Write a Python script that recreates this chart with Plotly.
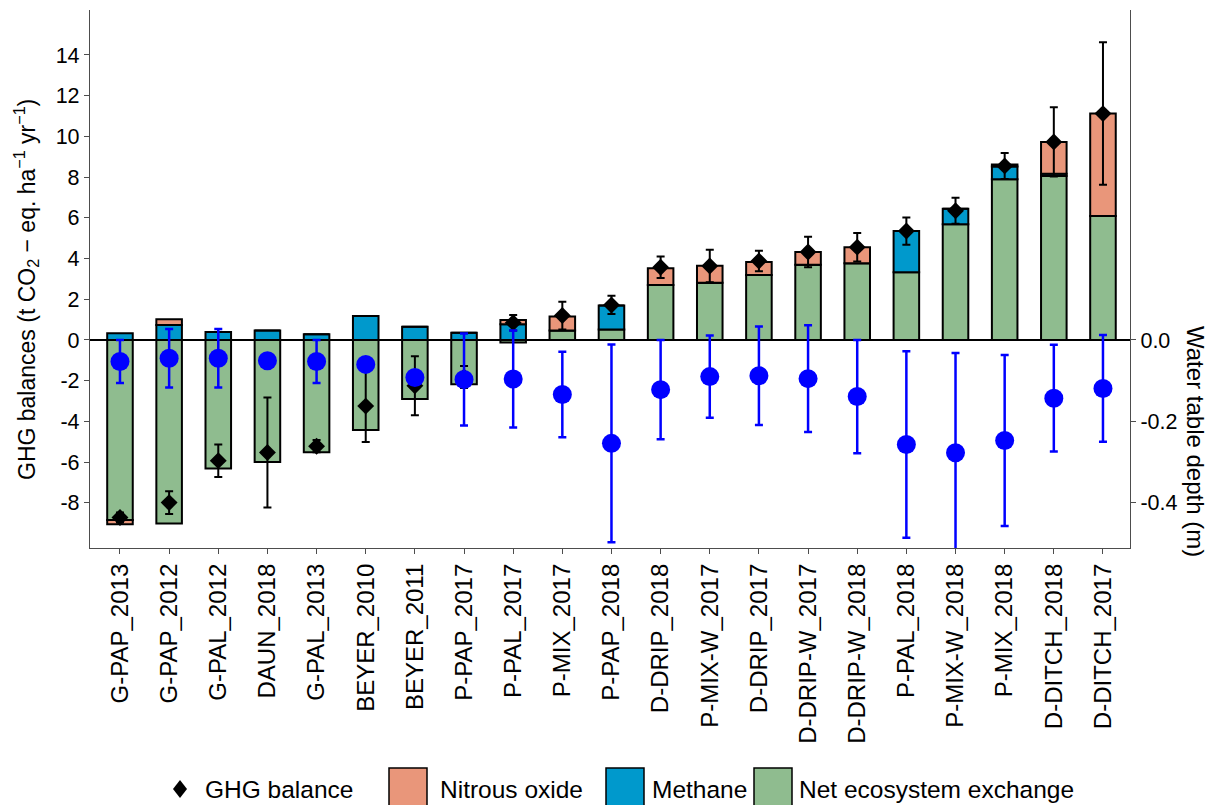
import plotly.graph_objects as go

# ---- data -------------------------------------------------------------
sites = ["G-PAP_2013", "G-PAP_2012", "G-PAL_2012", "DAUN_2018", "G-PAL_2013",
         "BEYER_2010", "BEYER_2011", "P-PAP_2017", "P-PAL_2017", "P-MIX_2017",
         "P-PAP_2018", "D-DRIP_2018", "P-MIX-W_2017", "D-DRIP_2017", "D-DRIP-W_2017",
         "D-DRIP-W_2018", "P-PAL_2018", "P-MIX-W_2018", "P-MIX_2018", "D-DITCH_2018",
         "D-DITCH_2017"]

# t CO2-eq ha-1 yr-1
nee = [-8.85, -9.02, -6.32, -6.00, -5.52, -4.42, -2.90, -2.18, -0.13, 0.47,
       0.52, 2.70, 2.81, 3.19, 3.70, 3.77, 3.33, 5.68, 7.90, 8.05, 6.09]
methane = [0.33, 0.74, 0.39, 0.47, 0.28, 1.18, 0.65, 0.36, 0.77, 0.00,
           1.17, 0.00, 0.00, 0.00, 0.00, 0.00, 2.02, 0.77, 0.62, 0.12, 0.00]
nitrous = [-0.20, 0.28, 0.00, 0.00, 0.00, 0.00, 0.00, 0.00, 0.21, 0.68,
           0.00, 0.82, 0.84, 0.64, 0.62, 0.79, 0.00, 0.00, 0.10, 1.56, 5.03]
ghg_balance = [-8.72, -7.99, -5.93, -5.53, -5.22, -3.25, -2.25, -1.82, 0.85, 1.20,
               1.72, 3.57, 3.63, 3.88, 4.32, 4.56, 5.35, 6.35, 8.55, 9.73, 11.12]
ghg_err = [0.25, 0.56, 0.80, 2.70, 0.30, 1.76, 1.45, 0.54, 0.38, 0.68,
           0.45, 0.53, 0.80, 0.50, 0.75, 0.70, 0.67, 0.64, 0.64, 1.70, 3.50]

# water table depth (m)
wtd = [-0.053, -0.045, -0.045, -0.051, -0.053, -0.060, -0.092, -0.097, -0.096, -0.134,
       -0.254, -0.122, -0.090, -0.088, -0.095, -0.139, -0.257, -0.277, -0.247, -0.143,
       -0.119]
wtd_err = [0.053, 0.072, 0.072, 0.0, 0.053, 0.0, 0.0, 0.113, 0.119, 0.105,
           0.243, 0.122, 0.101, 0.121, 0.131, 0.139, 0.229, 0.245, 0.210, 0.131,
           0.131]

left_ticks = [-8, -6, -4, -2, 0, 2, 4, 6, 8, 10, 12, 14]
left_ticktext = ["-8", "-6", "-4", "-2", "0", "2", "4", "6", "8", "10", "12", "14"]
right_ticks = [-0.4, -0.2, 0.0]
right_ticktext = ["-0.4", "-0.2", "0.0"]

COL_N2O = "#E9967A"
COL_CH4 = "#0099CC"
COL_NEE = "#8FBC8F"
FONT = "Liberation Sans, Arial, sans-serif"
AXIS_GREY = "#4d4d4d"

# ---- figure geometry (pixels) ----------------------------------------
W, H = 1217, 805
ML, MR, MT, MB = 90, 87, 10, 257
PW, PH = W - ML - MR, H - MT - MB
Y_RANGE = [-10.22, 16.21]
SCALE2 = 0.05  # right axis (m) per left-axis unit
Y2_RANGE = [Y_RANGE[0] * SCALE2, Y_RANGE[1] * SCALE2]


def px(x):
    return (x - ML) / PW


def py(y):
    return (H - MB - y) / PH


fig = go.Figure()

bar_line = dict(color="black", width=2)
for name, vals, col in [("Net ecosystem exchange", nee, COL_NEE),
                        ("Methane", methane, COL_CH4),
                        ("Nitrous oxide", nitrous, COL_N2O)]:
    fig.add_trace(go.Bar(x=sites, y=vals, name=name, width=0.52,
                         marker=dict(color=col, line=bar_line),
                         showlegend=False))

fig.add_trace(go.Scatter(
    x=sites, y=ghg_balance, mode="markers", name="GHG balance",
    marker=dict(symbol="diamond", size=13, color="black"),
    error_y=dict(type="data", array=ghg_err, color="black", thickness=2, width=4),
    showlegend=False))

fig.add_trace(go.Scatter(
    x=sites, y=wtd, mode="markers", yaxis="y2", name="Water table depth",
    marker=dict(symbol="circle", size=19, color="#0000FF"),
    error_y=dict(type="data", array=wtd_err, color="#0000FF", thickness=2.5, width=4),
    showlegend=False))

# ---- custom legend along the bottom ----------------------------------
LEG_FONT = dict(size=24.5, color="black", family=FONT)
shapes = []
annotations = []
leg_y = 789
shapes.append(dict(type="path", xref="paper", yref="paper",
                   path=f"M {px(180)},{py(leg_y - 9)} L {px(187)},{py(leg_y)} "
                        f"L {px(180)},{py(leg_y + 9)} L {px(173)},{py(leg_y)} Z",
                   fillcolor="black", line=dict(width=0)))
annotations.append(dict(text="GHG balance", x=px(203), y=py(leg_y), xref="paper",
                        yref="paper", xanchor="left", yanchor="middle",
                        showarrow=False, font=LEG_FONT))
for x0, x1, col, label, tx in [(389, 427, COL_N2O, "Nitrous oxide", 438),
                               (606, 644, COL_CH4, "Methane", 650),
                               (754, 792, COL_NEE, "Net ecosystem exchange", 797)]:
    shapes.append(dict(type="rect", xref="paper", yref="paper",
                       x0=px(x0), x1=px(x1), y0=py(768), y1=py(812),
                       fillcolor=col, line=dict(color="black", width=1.5)))
    annotations.append(dict(text=label, x=px(tx), y=py(leg_y), xref="paper",
                            yref="paper", xanchor="left", yanchor="middle",
                            showarrow=False, font=LEG_FONT))

# axis titles
annotations.append(dict(
    text="GHG balances (t CO<sub>2</sub> − eq. ha<sup>−1</sup> yr<sup>−1</sup>)",
    x=px(26), y=py(290), xref="paper", yref="paper", textangle=-90,
    xanchor="center", yanchor="middle", showarrow=False,
    font=dict(size=23, color="black", family=FONT)))
annotations.append(dict(
    text="Water table depth (m)", x=px(1196), y=py(441), xref="paper", yref="paper",
    textangle=90, xanchor="center", yanchor="middle", showarrow=False,
    font=dict(size=24, color="black", family=FONT)))

fig.update_layout(
    width=W, height=H,
    margin=dict(l=ML, r=MR, t=MT, b=MB, pad=0),
    paper_bgcolor="white", plot_bgcolor="white",
    barmode="relative",
    font=dict(family=FONT, color="black"),
    shapes=shapes, annotations=annotations,
    xaxis=dict(type="category", categoryorder="array", categoryarray=sites,
               range=[-0.61, 20.55], showgrid=False, zeroline=False,
               showline=True, linecolor=AXIS_GREY, linewidth=1.3,
               ticks="outside", ticklen=5, tickcolor=AXIS_GREY, tickwidth=1.3,
               tickangle=-90, tickfont=dict(size=24, color="black", family=FONT)),
    yaxis=dict(range=Y_RANGE, showgrid=False,
               zeroline=True, zerolinecolor="black", zerolinewidth=2,
               showline=True, linecolor=AXIS_GREY, linewidth=1.3,
               ticks="outside", ticklen=5, tickcolor=AXIS_GREY, tickwidth=1.3,
               tickvals=left_ticks, ticktext=left_ticktext,
               tickfont=dict(size=21.5, color="black", family=FONT)),
    yaxis2=dict(range=Y2_RANGE, overlaying="y", side="right", showgrid=False,
                zeroline=False, showline=True, linecolor=AXIS_GREY, linewidth=1.3,
                ticks="outside", ticklen=5, tickcolor=AXIS_GREY, tickwidth=1.3,
                tickvals=right_ticks, ticktext=right_ticktext,
                tickfont=dict(size=21.5, color="black", family=FONT)),
)

fig.write_html("out.html")
